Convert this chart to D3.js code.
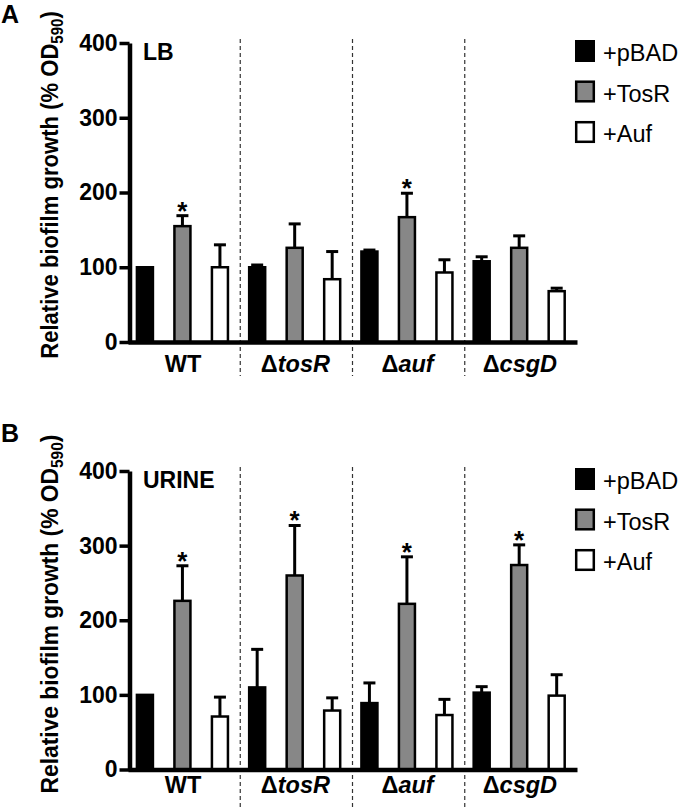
<!DOCTYPE html>
<html>
<head>
<meta charset="utf-8">
<script src="https://cdn.jsdelivr.net/npm/d3@7"></script>
<style>
  html, body { margin: 0; padding: 0; background: #fff; }
  svg text { font-family: "Liberation Sans", Arial, Helvetica, sans-serif; }
</style>
</head>
<body>
<svg id="chart" width="680" height="810"></svg>
<script>
// ---------- data ----------
const categories = ["WT", "tosR", "auf", "csgD"];
const categoryIsMutant = [false, true, true, true];
const seriesNames = ["+pBAD", "+TosR", "+Auf"];
const seriesFills = ["#000000", "#878787", "#ffffff"];
const yTicks = [0, 100, 200, 300, 400];

// Panel A (LB)
const lbPBAD = [100, 100, 121, 108];
const lbPBADErr = [0, 3, 2, 6];
const lbTosR = [155, 126, 167, 126];
const lbTosRErr = [14, 32, 32, 16];
const lbAuf = [100, 84, 93, 68];
const lbAufErr = [30, 37, 17, 4];
const lbSig = [[false, true, false], [false, false, false], [false, true, false], [false, false, false]];

// Panel B (URINE)
const urPBAD = [100, 110, 89, 103];
const urPBADErr = [0, 51, 27, 8];
const urTosR = [226, 260, 222, 274];
const urTosRErr = [47, 67, 63, 27];
const urAuf = [71, 79, 73, 99];
const urAufErr = [26, 17, 21, 28];
const urSig = [[false, true, false], [false, true, false], [false, true, false], [false, true, false]];

// ---------- drawing ----------
const svg = d3.select("#chart");

function panel(cfg) {
  const g = svg.append("g");
  const x = d3.scaleBand().domain(categories).range([128, 577]).paddingInner(0).paddingOuter(0);
  const xi = d3.scaleBand().domain(seriesNames).range([0, x.bandwidth()])
    .paddingInner(0.573).paddingOuter(0.283).align(0.42);
  const y = d3.scaleLinear().domain([0, 400]).range([cfg.y0, cfg.yTop]);

  // dashed separators
  g.selectAll("line.sep").data(categories.slice(1)).join("line")
    .attr("class", "sep")
    .attr("x1", d => x(d)).attr("x2", d => x(d))
    .attr("y1", cfg.sepTop).attr("y2", cfg.sepBottom)
    .attr("stroke", "#333").attr("stroke-width", 1.2)
    .attr("stroke-dasharray", "4,3");

  const values = [cfg.pbad, cfg.tosr, cfg.auf];
  const errs = [cfg.pbadErr, cfg.tosrErr, cfg.aufErr];
  const rows = [];
  categories.forEach((c, ci) => {
    seriesNames.forEach((s, si) => {
      rows.push({ c, s, si, v: values[si][ci], e: errs[si][ci], sig: cfg.sig[ci][si] });
    });
  });

  const cx = d => x(d.c) + xi(d.s) + xi.bandwidth() / 2;

  // error bars (upward only)
  const eb = g.selectAll("g.err").data(rows.filter(d => d.e > 0)).join("g").attr("class", "err");
  eb.append("line")
    .attr("x1", cx).attr("x2", cx)
    .attr("y1", d => y(d.v)).attr("y2", d => y(d.v + d.e))
    .attr("stroke", "#000").attr("stroke-width", 3);
  eb.append("line")
    .attr("x1", d => cx(d) - 6).attr("x2", d => cx(d) + 6)
    .attr("y1", d => y(d.v + d.e)).attr("y2", d => y(d.v + d.e))
    .attr("stroke", "#000").attr("stroke-width", 3);

  // bars
  g.selectAll("rect.bar").data(rows).join("rect")
    .attr("class", "bar")
    .attr("x", d => x(d.c) + xi(d.s))
    .attr("y", d => y(d.v))
    .attr("width", xi.bandwidth())
    .attr("height", d => y(0) - y(d.v))
    .attr("fill", d => seriesFills[d.si])
    .attr("stroke", "#000").attr("stroke-width", 2.5);

  // asterisks
  g.selectAll("text.sig").data(rows.filter(d => d.sig)).join("text")
    .attr("class", "sig")
    .attr("x", cx)
    .attr("y", d => y(d.v + d.e) + 4)
    .attr("text-anchor", "middle")
    .attr("font-size", 26).attr("font-weight", "bold")
    .text("*");

  // y axis
  const ya = g.append("g").attr("transform", "translate(129.5,0)")
    .call(d3.axisLeft(y).tickValues(yTicks).tickSize(10).tickSizeOuter(0).tickPadding(2));
  ya.select(".domain").attr("stroke-width", 4.5).attr("stroke", "#000");
  ya.selectAll(".tick line").attr("stroke-width", 3.5).attr("stroke", "#000");
  ya.selectAll(".tick text")
    .attr("font-family", "'Liberation Sans', Arial, sans-serif")
    .attr("font-size", 23).attr("font-weight", "bold").attr("fill", "#000");

  // x axis baseline
  const xa = g.append("g").attr("transform", `translate(0,${y(0)})`)
    .call(d3.axisBottom(x).tickSize(0).tickSizeOuter(0).tickFormat(""));
  xa.select(".domain").attr("stroke-width", 4.5).attr("stroke", "#000");
  xa.selectAll(".tick").remove();

  // x labels
  const xl = g.selectAll("text.xl").data(categories).join("text")
    .attr("class", "xl")
    .attr("x", d => x(d) + x.bandwidth() / 2 - 1)
    .attr("y", cfg.xLabelY)
    .attr("text-anchor", "middle")
    .attr("font-size", 23.5).attr("font-weight", "bold");
  xl.each(function(d, i) {
    const t = d3.select(this);
    if (categoryIsMutant[i]) {
      t.append("tspan").text("\u0394");
      t.append("tspan").attr("font-style", "italic").text(d);
    } else {
      t.text(d);
    }
  });

  // y title
  const yt = g.append("text")
    .attr("transform", `translate(${cfg.titleX},${cfg.titleY}) scale(1,${cfg.titleScale}) rotate(-90)`)
    .attr("text-anchor", "middle")
    .attr("font-size", 24).attr("font-weight", "bold");
  yt.append("tspan").text("Relative biofilm growth (% OD");
  yt.append("tspan").attr("font-size", 24 * 0.68).attr("dy", 5).text("590");
  yt.append("tspan").attr("dy", -5).text(")");

  // medium label
  g.append("text").attr("x", 143).attr("y", cfg.mediumY)
    .attr("font-size", 23).attr("font-weight", "bold").text(cfg.medium);

  // panel letter
  g.append("text").attr("x", 1).attr("y", cfg.letterY)
    .attr("font-size", 25).attr("font-weight", "bold").text(cfg.letter);

  // legend
  const lg = g.selectAll("g.leg").data(seriesNames).join("g").attr("class", "leg")
    .attr("transform", (d, i) => `translate(575,${cfg.legTop + i * 40.5})`);
  lg.append("rect")
    .attr("x", (d, i) => i === 0 ? 0 : 1.2).attr("y", (d, i) => i === 0 ? 0 : 1.2)
    .attr("width", (d, i) => i === 0 ? 20 : 17.6).attr("height", (d, i) => i === 0 ? 22 : 19.6)
    .attr("fill", (d, i) => seriesFills[i])
    .attr("stroke", (d, i) => i === 0 ? "none" : "#000").attr("stroke-width", 2.5);
  lg.append("text").attr("x", 28).attr("y", 21)
    .attr("font-size", 23.5).text(d => d);
}

panel({
  letter: "A", letterY: 23, medium: "LB", mediumY: 60,
  y0: 342, yTop: 43, sepTop: 39, sepBottom: 376, xLabelY: 372,
  titleX: 58, titleY: 185, titleScale: 0.92, legTop: 40,
  pbad: lbPBAD, pbadErr: lbPBADErr, tosr: lbTosR, tosrErr: lbTosRErr, auf: lbAuf, aufErr: lbAufErr, sig: lbSig
});
panel({
  letter: "B", letterY: 442, medium: "URINE", mediumY: 488,
  y0: 769.5, yTop: 471, sepTop: 467, sepBottom: 810, xLabelY: 793,
  titleX: 58, titleY: 614, titleScale: 0.95, legTop: 468,
  pbad: urPBAD, pbadErr: urPBADErr, tosr: urTosR, tosrErr: urTosRErr, auf: urAuf, aufErr: urAufErr, sig: urSig
});
</script>
</body>
</html>
